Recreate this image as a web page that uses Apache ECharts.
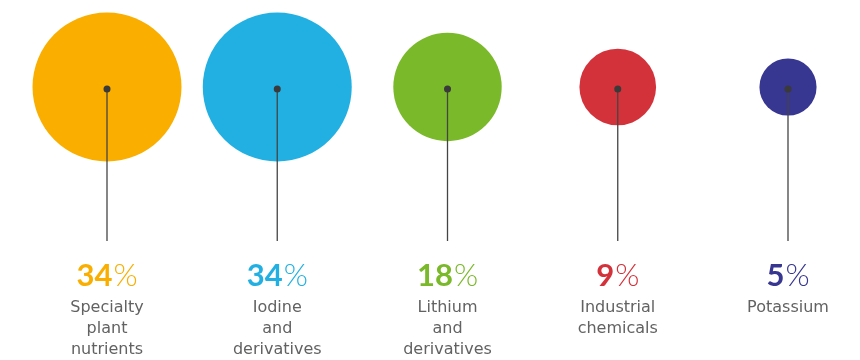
<!DOCTYPE html>
<html>
<head>
<meta charset="utf-8">
<style>
  html, body { margin: 0; padding: 0; background: #fff; }
  #chart { width: 860px; height: 360px; }
</style>
<script src="https://cdn.jsdelivr.net/npm/echarts@6/dist/echarts.min.js"></script>
</head>
<body>
<div id="chart"></div>
<script>
// Revenue share by business line
const categories = ['Specialty\nplant\nnutrients', 'Iodine\nand\nderivatives', 'Lithium\nand\nderivatives', 'Industrial\nchemicals', 'Potassium'];
const shares = [34, 34, 18, 9, 5];
const colors = ['#F9AE00', '#22B0E3', '#7AB929', '#D3323B', '#373691'];

const TEXT = '#626262';
const NUM_FONT = 'Lato, "Open Sans", sans-serif';
const LABEL_FONT = '"DejaVu Sans", sans-serif';
const MAX_RADIUS = 74.5; // radius of the largest bubble, px

const chart = echarts.init(document.getElementById('chart'), null, { renderer: 'canvas' });

const bubbleData = shares.map((v, i) => ({
  value: [i, 1, v],
  itemStyle: { color: colors[i] }
}));

chart.setOption({
  animation: false,
  backgroundColor: '#ffffff',
  grid: { left: 107, right: 72, top: 87, bottom: 119 },
  xAxis: { type: 'value', min: 0, max: categories.length - 1, show: false },
  yAxis: { type: 'value', min: 0, max: 1, show: false },
  series: [
    {
      // bubbles: area proportional to share
      type: 'scatter',
      clip: false,
      silent: true,
      data: bubbleData,
      symbolSize: (val) => 2 * MAX_RADIUS * Math.sqrt(val[2] / Math.max(...shares)),
      itemStyle: { opacity: 1 },
      z: 1
    },
    {
      // stems, centre dots and labels
      type: 'custom',
      clip: false,
      silent: true,
      z: 2,
      data: shares.map((v, i) => [i, v]),
      renderItem: (params, api) => {
        const i = api.value(0);
        const v = api.value(1);
        const top = api.coord([i, 1]);
        const bottom = api.coord([i, 0]);
        const x = top[0];
        return {
          type: 'group',
          children: [
            {
              type: 'line',
              shape: { x1: x, y1: top[1] + 2, x2: x, y2: bottom[1] },
              style: { stroke: '#444444', lineWidth: 1.3 }
            },
            {
              type: 'circle',
              shape: { cx: x, cy: top[1] + 2, r: 3.5 },
              style: { fill: '#3a3a3a' }
            },
            {
              type: 'text',
              x: x,
              y: bottom[1] + 35,
              style: {
                text: '{n|' + v + '}{p|%}',
                align: 'center',
                verticalAlign: 'middle',
                rich: {
                  n: { fontFamily: NUM_FONT, fontSize: 31, fontWeight: 'bold', fill: colors[i], lineHeight: 34 },
                  p: { fontFamily: NUM_FONT, fontSize: 31, fontWeight: 300, fill: colors[i], lineHeight: 34, padding: [0, 0, 0, 1] }
                }
              }
            },
            {
              type: 'text',
              x: x,
              y: bottom[1] + 56,
              style: {
                text: categories[i],
                align: 'center',
                verticalAlign: 'top',
                fontFamily: LABEL_FONT,
                fontSize: 16,
                lineHeight: 21,
                fill: TEXT
              }
            }
          ]
        };
      }
    }
  ]
});
</script>
</body>
</html>
